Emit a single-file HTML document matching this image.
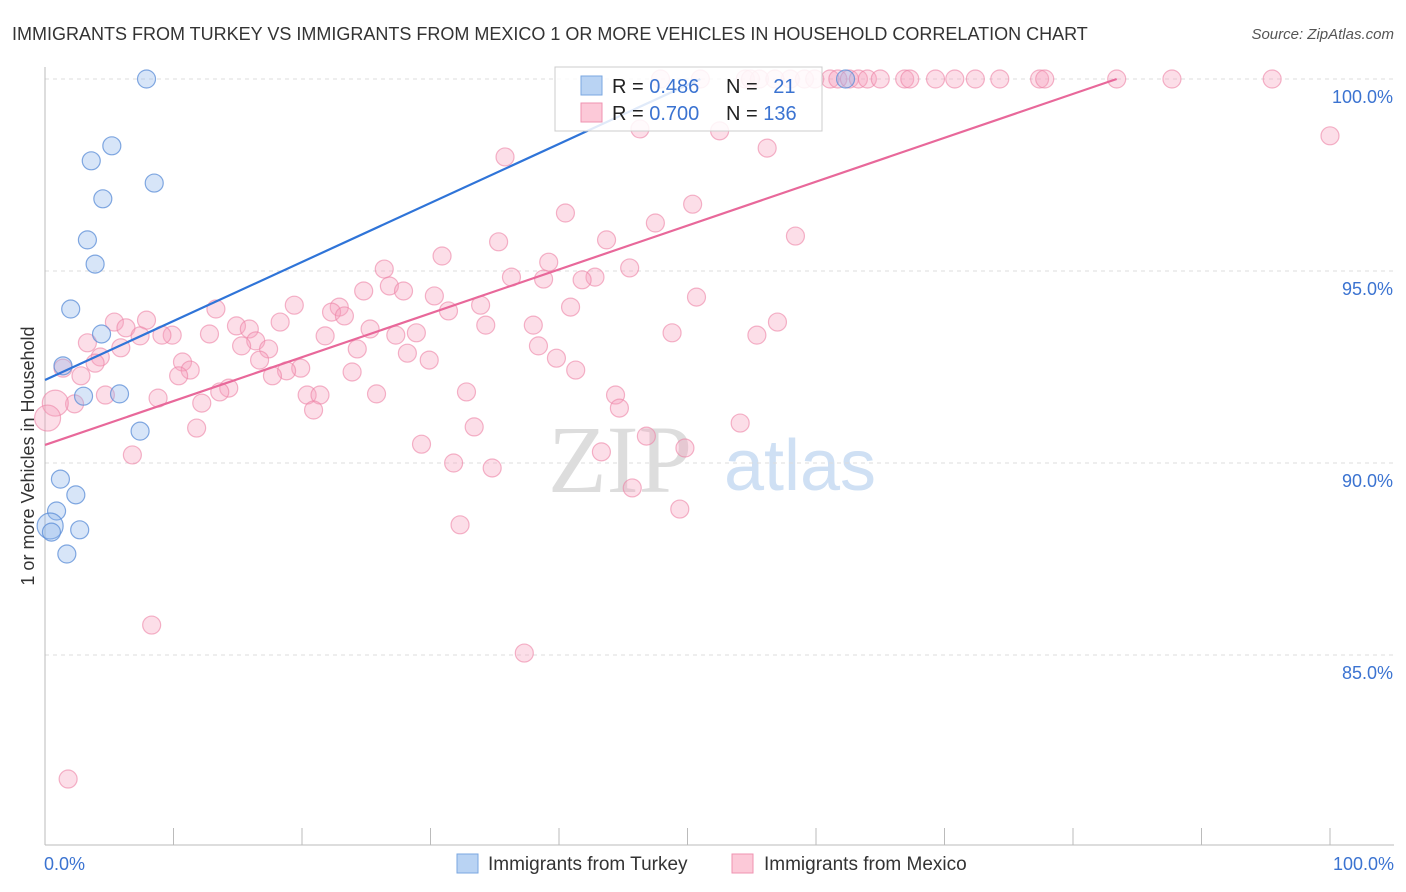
<!DOCTYPE html>
<html><head><meta charset="utf-8">
<style>
body{margin:0;background:#fff;font-family:"Liberation Sans",sans-serif;}
svg{display:block}
</style></head>
<body>
<svg id="chart" width="1406" height="892">
<text x="12" y="40" font-size="18" fill="#333">IMMIGRANTS FROM TURKEY VS IMMIGRANTS FROM MEXICO 1 OR MORE VEHICLES IN HOUSEHOLD CORRELATION CHART</text>
<text x="1394" y="39" font-size="15" fill="#555" font-style="italic" text-anchor="end">Source: ZipAtlas.com</text>
<text x="620" y="492" font-size="96" fill="#ddd" font-family="Liberation Serif,serif" text-anchor="middle">ZIP</text>
<text x="800" y="490" font-size="72" fill="#cfe0f4" text-anchor="middle">atlas</text>
<g id="grid"></g>
<g id="axes"></g>
<g id="pts"></g>
<g id="lines"></g>
<g>
<rect x="555" y="67" width="267" height="64" fill="#fff" fill-opacity="0.85" stroke="#ccc"/>
<rect x="581" y="76" width="21" height="19" fill="#b9d3f3" stroke="#7aa7e0"/>
<rect x="581" y="103" width="21" height="19" fill="#fcc9d8" stroke="#ef93b1"/>
<text x="612" y="93" font-size="20" fill="#222">R = <tspan fill="#3b73d1">0.486</tspan></text>
<text x="726" y="93" font-size="20" fill="#222">N = <tspan fill="#3b73d1" dx="10">21</tspan></text>
<text x="612" y="120" font-size="20" fill="#222">R = <tspan fill="#3b73d1">0.700</tspan></text>
<text x="726" y="120" font-size="20" fill="#222">N = <tspan fill="#3b73d1">136</tspan></text>
</g>
<g>
<rect x="457" y="854" width="21" height="19" fill="#b9d3f3" stroke="#7aa7e0"/>
<text x="488" y="870" font-size="19" fill="#333">Immigrants from Turkey</text>
<rect x="732" y="854" width="21" height="19" fill="#fcc9d8" stroke="#ef93b1"/>
<text x="764" y="870" font-size="19" fill="#333">Immigrants from Mexico</text>
</g>
<text x="34" y="456" font-size="18" fill="#333" transform="rotate(-90 34 456)" text-anchor="middle">1 or more Vehicles in Household</text>
</svg>
<script>
const yTicks=[100,95,90,85];
const yTickLabels=["100.0%","95.0%","90.0%","85.0%"];
const xEndLabels=["0.0%","100.0%"];
const turkeyX=[7.9,5.2,3.6,8.5,4.5,3.3,3.9,2.0,4.4,1.4,3.0,5.8,7.4,1.2,2.4,0.9,0.4,2.7,1.7,62.3,0.5];
const turkeyY=[100,98.26,97.87,97.29,96.88,95.81,95.18,94.01,93.36,92.53,91.74,91.8,90.83,89.58,89.17,88.75,88.36,88.26,87.63,100,88.2];
const turkeyR=[9,9,9,9,9,9,9,9,9,9,9,9,9,9,9,9,13,9,9,9,9];
const mexicoX=[47.9,51.0,54.5,55.6,58.0,59.1,59.9,61.1,61.7,62.6,63.3,64.0,65.0,66.9,67.3,69.3,70.8,72.4,74.3,77.4,77.8,83.4,87.7,95.5,54.9,56.8,
100,46.3,52.5,56.2,35.8,40.5,50.4,47.5,58.4,43.7,35.3,30.9,39.2,26.4,45.5,36.3,42.8,38.8,41.8,26.8,27.9,24.8,30.3,50.7,
19.4,31.4,13.3,33.9,40.9,22.9,22.3,23.3,18.3,5.4,7.9,14.9,57.0,34.3,38.0,6.3,15.9,25.3,28.9,9.9,
9.1,12.8,21.8,27.3,48.8,55.4,7.4,3.3,16.4,15.3,38.4,5.9,17.4,24.3,28.2,4.3,10.7,16.7,39.8,29.9,
3.9,1.4,11.3,19.9,23.9,41.3,18.8,2.8,10.4,17.7,14.3,13.6,32.8,4.7,8.8,20.4,21.4,25.8,44.4,2.3,
12.2,20.9,44.7,33.4,11.8,54.1,46.8,29.3,49.8,6.8,43.3,31.8,34.8,45.7,49.4,32.3,8.3,37.3,1.8,0.8,0.2];
const mexicoY=[100,100,100,100,100,100,100,100,100,100,100,100,100,100,100,100,100,100,100,100,100,100,100,100,100,100,
98.52,98.70,98.65,98.20,97.97,96.51,96.74,96.25,95.91,95.81,95.76,95.39,95.23,95.05,95.08,94.84,94.84,94.79,94.77,94.61,94.48,94.48,94.35,94.32,
94.11,93.96,94.01,94.11,94.06,94.06,93.93,93.83,93.67,93.67,93.72,93.57,93.67,93.59,93.59,93.52,93.49,93.49,93.39,93.33,
93.33,93.36,93.31,93.33,93.39,93.33,93.31,93.13,93.18,93.05,93.05,93.0,92.97,92.97,92.86,92.76,92.63,92.68,92.73,92.68,
92.60,92.47,92.42,92.47,92.37,92.42,92.40,92.27,92.27,92.27,91.95,91.85,91.85,91.77,91.69,91.77,91.77,91.80,91.77,91.54,
91.56,91.38,91.43,90.94,90.91,91.04,90.70,90.49,90.39,90.21,90.29,90.0,89.87,89.35,88.80,88.39,85.78,85.05,81.77,91.56,91.17];
const mexicoBigCount=2;
const NS="http://www.w3.org/2000/svg";
const X0=45,X1=1330,Y100=79,PX_PER=38.4;
const sx=v=>X0+(X1-X0)*v/100;
const sy=v=>Y100+(100-v)*PX_PER;
function mk(tag,attrs,parent){const e=document.createElementNS(NS,tag);for(const k in attrs)e.setAttribute(k,attrs[k]);parent.appendChild(e);return e;}
const grid=document.getElementById('grid'),axes=document.getElementById('axes'),pts=document.getElementById('pts'),lines=document.getElementById('lines');
yTicks.forEach((t,i)=>{
 const g=mk('line',{x1:X0,x2:1394,y1:sy(t),y2:sy(t),stroke:'#ddd','stroke-dasharray':'4,4'},grid);
 
 
 const l=mk('text',{x:1393,y:sy(t)+24,'font-size':18,fill:'#3b73d1','text-anchor':'end'},axes);
 l.textContent=yTickLabels[i];
 
 
});
const ax=mk('line',{x1:X0,x2:X0,y1:67,y2:845,stroke:'#bbb'},axes);


const bx=mk('line',{x1:X0,x2:1394,y1:845,y2:845,stroke:'#bbb'},axes);


for(let i=0;i<=10;i++){
 const t=mk('line',{x1:sx(i*10),x2:sx(i*10),y1:828,y2:845,stroke:'#bbb'},axes);
 
 
}
[[0,'start',44],[100,'end',1394]].forEach((d,i)=>{
 const l=mk('text',{x:d[2],y:870,'font-size':18,fill:'#3b73d1','text-anchor':d[1]},axes);
 l.textContent=xEndLabels[i];
 
 
});
const nM=Math.min(mexicoX.length,mexicoY.length);
for(let i=0;i<nM;i++){
 const big=i>=nM-mexicoBigCount;
 const c=mk('circle',{cx:sx(mexicoX[i]),cy:sy(mexicoY[i]),r:big?13:9,fill:'rgba(247,160,190,0.35)',stroke:'rgba(236,130,165,0.6)','stroke-width':1.2},pts);
 
 
}
turkeyX.forEach((x,i)=>{
 const c=mk('circle',{cx:sx(x),cy:sy(turkeyY[i]),r:turkeyR[i],fill:'rgba(140,180,235,0.35)',stroke:'rgba(90,140,215,0.75)','stroke-width':1.2},pts);
 
 
});
const bl=mk('line',{x1:sx(0),y1:sy(92.16),x2:sx(51),y2:sy(100),stroke:'#2f74d8','stroke-width':2.2},lines);


const pl=mk('line',{x1:sx(0),y1:sy(90.47),x2:sx(83.4),y2:sy(100),stroke:'#e8689a','stroke-width':2.2},lines);


</script>
</body></html>
